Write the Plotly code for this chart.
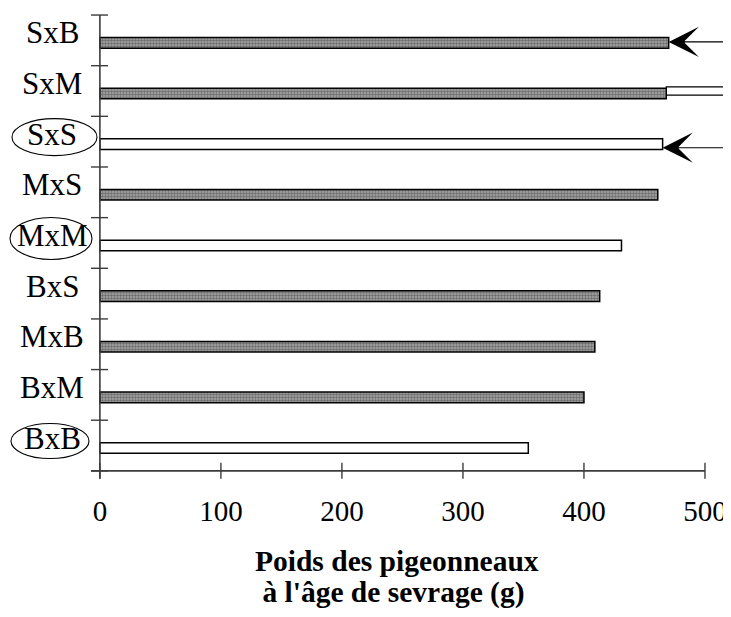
import plotly.graph_objects as go

# ---------------- data ----------------
categories = ["SxB", "SxM", "SxS", "MxS", "MxM", "BxS", "MxB", "BxM", "BxB"]
weights = [470, 468, 465, 461, 431, 413, 409, 400, 354]
pure_cross = [False, False, True, False, True, False, False, False, True]
extension_category = "SxM"
extension_end = 530
arrow_categories = ["SxB", "SxS"]
x_tick_values = [0, 100, 200, 300, 400, 500]
x_title_lines = ["Poids des pigeonneaux", " à l'âge de sevrage (g)"]

# ---------------- geometry ----------------
OFF = 8  # page body margin in the browser
W, H = 731 - OFF, 617 - 2 * OFF
L, R, T = 89 - OFF, 0, 12 - OFF
B = H - (481 - OFF)
XMIN, XMAX = -9, 521.5
YMIN, YMAX = -0.7, 8.56
plot_w = W - L - R
plot_h = H - T - B
px_per_x = plot_w / (XMAX - XMIN)
px_per_y = plot_h / (YMAX - YMIN)


def fx(p):  # reference pixel -> figure pixel
    return p - OFF


def px2x(p):
    return XMIN + (fx(p) - L) / px_per_x


def px2paper_x(p):
    return (fx(p) - L) / plot_w


def py2paper(p):
    return (H - B - fx(p)) / plot_h


n = len(categories)
pos = {c: n - 1 - i for i, c in enumerate(categories)}
bar_shift = -2.5 / px_per_y
label_shift = 7.5 / px_per_y

serif = "Liberation Serif, Times New Roman, serif"

fig = go.Figure()

# white extension drawn for SxM
ext_val = weights[categories.index(extension_category)]
fig.add_trace(go.Bar(
    x=[extension_end - ext_val], base=[ext_val], y=[pos[extension_category]],
    orientation="h", width=0.16,
    marker=dict(color="white", line=dict(color="black", width=1.2)),
    showlegend=False, hoverinfo="skip"))

hy_c = [c for c, p in zip(categories, pure_cross) if not p]
hy_v = [v for v, p in zip(weights, pure_cross) if not p]
pu_c = [c for c, p in zip(categories, pure_cross) if p]
pu_v = [v for v, p in zip(weights, pure_cross) if p]

fig.add_trace(go.Bar(
    x=hy_v, y=[pos[c] + bar_shift for c in hy_c], orientation="h", width=0.21,
    marker=dict(color="#a8a8a8",
                pattern=dict(shape=".", fgcolor="#333333", bgcolor="#a8a8a8",
                             size=3, solidity=0.55),
                line=dict(color="black", width=1.5)),
    showlegend=False, hovertext=hy_c))

fig.add_trace(go.Bar(
    x=pu_v, y=[pos[c] + bar_shift for c in pu_c], orientation="h", width=0.21,
    marker=dict(color="white", line=dict(color="black", width=1.5)),
    showlegend=False, hovertext=pu_c))

shapes = []
axis_col = "#3c3c3c"
# axis lines
shapes.append(dict(type="line", xref="x", yref="y", x0=px2x(91), x1=x_tick_values[-1],
                   y0=-0.5, y1=-0.5, line=dict(color=axis_col, width=1.6)))
shapes.append(dict(type="line", xref="x", yref="y", x0=0, x1=0,
                   y0=-0.5 - 8 / px_per_y, y1=n - 0.5, line=dict(color=axis_col, width=1.6)))
# y ticks between categories
for k in range(n + 1):
    shapes.append(dict(type="line", xref="x", yref="y", x0=px2x(91), x1=px2x(108),
                       y0=-0.5 + k, y1=-0.5 + k, line=dict(color=axis_col, width=1.4)))
# x ticks crossing axis
for t in x_tick_values:
    shapes.append(dict(type="line", xref="x", yref="y", x0=t, x1=t,
                       y0=-0.5 - 8 / px_per_y, y1=-0.5 + 8 / px_per_y,
                       line=dict(color=axis_col, width=1.4)))
# ellipses around pure crosses (left px, right px, half height px)
ellipse_style = {"SxS": (12, 97, 18.5), "MxM": (10, 92, 21), "BxB": (11, 89, 17.5)}
for c, p in zip(categories, pure_cross):
    if p:
        x0p, x1p, hh = ellipse_style[c]
        cy = pos[c] + 4.5 / px_per_y
        shapes.append(dict(type="circle", xref="paper", yref="y",
                           x0=px2paper_x(x0p), x1=px2paper_x(x1p),
                           y0=cy - hh / px_per_y, y1=cy + hh / px_per_y,
                           line=dict(color="black", width=1.1)))

annotations = []
for c in categories:
    annotations.append(dict(text=c, xref="paper", yref="y", x=px2paper_x(52),
                            y=pos[c] + label_shift, xanchor="center", yanchor="middle",
                            showarrow=False, font=dict(family=serif, size=31, color="black")))

arrow_dy = {"SxB": -0.03, "SxS": -0.12}
for c in arrow_categories:
    v = weights[categories.index(c)]
    tip_px = L + (v - XMIN) * px_per_x
    annotations.append(dict(text="", xref="x", yref="y", x=v, y=pos[c] + arrow_dy[c],
                            ax=W - tip_px, ay=0, showarrow=True, arrowhead=3,
                            arrowsize=4.2, arrowwidth=1.2, arrowcolor="black"))

title_y_px = [561, 592]
for line, yp in zip(x_title_lines, title_y_px):
    annotations.append(dict(text="<b>" + line + "</b>", xref="paper", yref="paper",
                            x=px2paper_x(253), y=py2paper(yp), xanchor="left",
                            yanchor="middle", showarrow=False,
                            font=dict(family=serif, size=29.5, color="black")))

fig.update_layout(
    width=W, height=H,
    margin=dict(l=L, r=R, t=T, b=B, pad=0),
    plot_bgcolor="white", paper_bgcolor="white",
    barmode="overlay",
    xaxis=dict(range=[XMIN, XMAX], tickmode="array", tickvals=x_tick_values,
               ticktext=[str(t) for t in x_tick_values], showgrid=False, zeroline=False,
               showline=False, ticks="outside", ticklen=4, tickcolor="rgba(0,0,0,0)",
               tickfont=dict(family=serif, size=29, color="black")),
    yaxis=dict(range=[YMIN, YMAX], showgrid=False, zeroline=False, showline=False,
               showticklabels=False, ticks=""),
    shapes=shapes, annotations=annotations,
)

fig.write_html("out.html")
